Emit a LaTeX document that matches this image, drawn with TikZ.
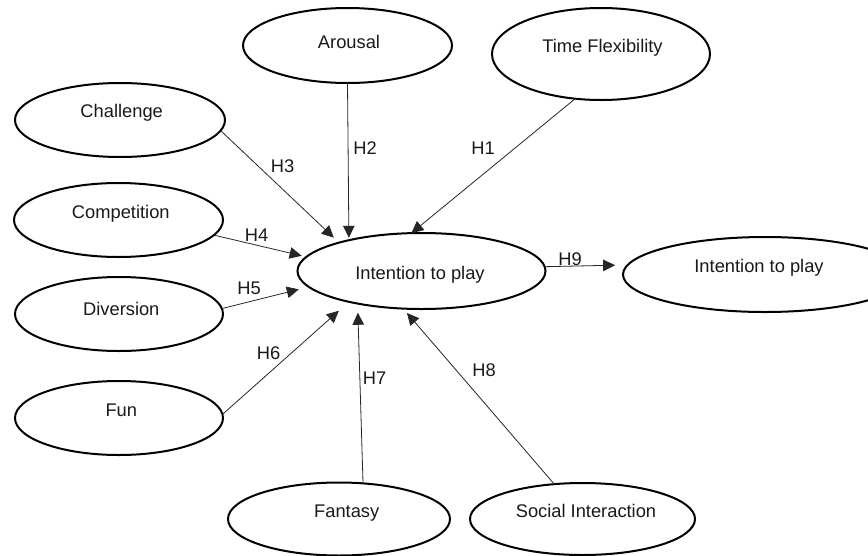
\documentclass[tikz,border=0pt]{standalone}
\usepackage{fontspec}
\setmainfont{Liberation Sans}
\usetikzlibrary{arrows.meta,shapes.geometric}
\tikzset{
  oval/.style={draw=black, ellipse, line width=2pt, inner sep=0pt, outer sep=0pt},
  lbl/.style={font=\fontsize{18.3}{22}\selectfont, inner sep=0pt, anchor=base, text=black!90},
  hyp/.style={font=\fontsize{18.3}{22}\selectfont, inner sep=0pt, text=black!90},
  conn/.style={draw=black!85, line width=0.8pt, -{Triangle[length=12pt,width=11.5pt]}},
}
\begin{document}
\begin{tikzpicture}[x=1pt,y=-1pt]
\clip (0,0) rectangle (868,555);
\fill[white] (0,0) rectangle (868,555);
% ellipses
\node[oval, minimum width=209pt, minimum height=75pt] (arousal) at (347.5,45.5) {};
\node[oval, minimum width=218pt, minimum height=92pt] (timeflex) at (601,54) {};
\node[oval, minimum width=210pt, minimum height=74pt] (challenge) at (120,120) {};
\node[oval, minimum width=209pt, minimum height=74pt] (competition) at (118.5,220) {};
\node[oval, minimum width=208pt, minimum height=74pt] (diversion) at (119,314) {};
\node[oval, minimum width=208pt, minimum height=74pt] (fun) at (119,418) {};
\node[oval, minimum width=248pt, minimum height=76pt] (central) at (421.5,271) {};
\node[oval, minimum width=284pt, minimum height=75pt] (right) at (765,274.5) {};
\node[oval, minimum width=222pt, minimum height=73pt] (fantasy) at (339,519) {};
\node[oval, minimum width=225pt, minimum height=72pt] (social) at (582.5,519) {};
% texts
\node[lbl] (tarousal) at (349,48) {Arousal};
\node[lbl] (ttimeflex) at (602.5,52) {Time Flexibility};
\node[lbl] (tchallenge) at (121.7,117) {Challenge};
\node[lbl] (tcompetition) at (120.8,218) {Competition};
\node[lbl] (tdiversion) at (121.3,315) {Diversion};
\node[lbl] (tfun) at (121.3,416) {Fun};
\node[lbl] (tcentral) at (420,279) {Intention to play};
\node[lbl] (tright) at (759,272) {Intention to play};
\node[lbl] (tfantasy) at (346.7,517) {Fantasy};
\node[lbl] (tsocial) at (586,517) {Social Interaction};
% connectors
\draw[conn] (timeflex.240) -- (central.105);
\draw[conn, shorten >=2.4pt] (arousal.270) -- (central.157.4);
\draw[conn, shorten >=7.2pt] (challenge.354.5) -- (central.161.7);
\draw[conn, shorten >=4.9pt] (competition.351.8) -- (central.173.8);
\draw[conn, shorten >=10.3pt] (diversion.3.3) -- (central.188.5);
\draw[conn, shorten >=13.5pt] (fun.2.75) -- (central.203.6);
\draw[conn, shorten >=9.2pt] (fantasy.56.3) -- (central.207.6);
\draw[conn, shorten >=5.8pt] (social.129.5) -- (central.244.1);
\draw[conn, shorten >=12.6pt] (central.2.8) -- (right.176);
% hypothesis labels
\node[hyp] (h1) at (483,148.5) {H1};
\node[hyp] (h2) at (365,148.5) {H2};
\node[hyp] (h3) at (282.5,166) {H3};
\node[hyp] (h4) at (256.5,235) {H4};
\node[hyp] (h5) at (249,288) {H5};
\node[hyp] (h6) at (268.5,353.5) {H6};
\node[hyp] (h7) at (374.5,378) {H7};
\node[hyp] (h8) at (484,370) {H8};
\node[hyp] (h9) at (570,259.5) {H9};
\end{tikzpicture}
\end{document}
